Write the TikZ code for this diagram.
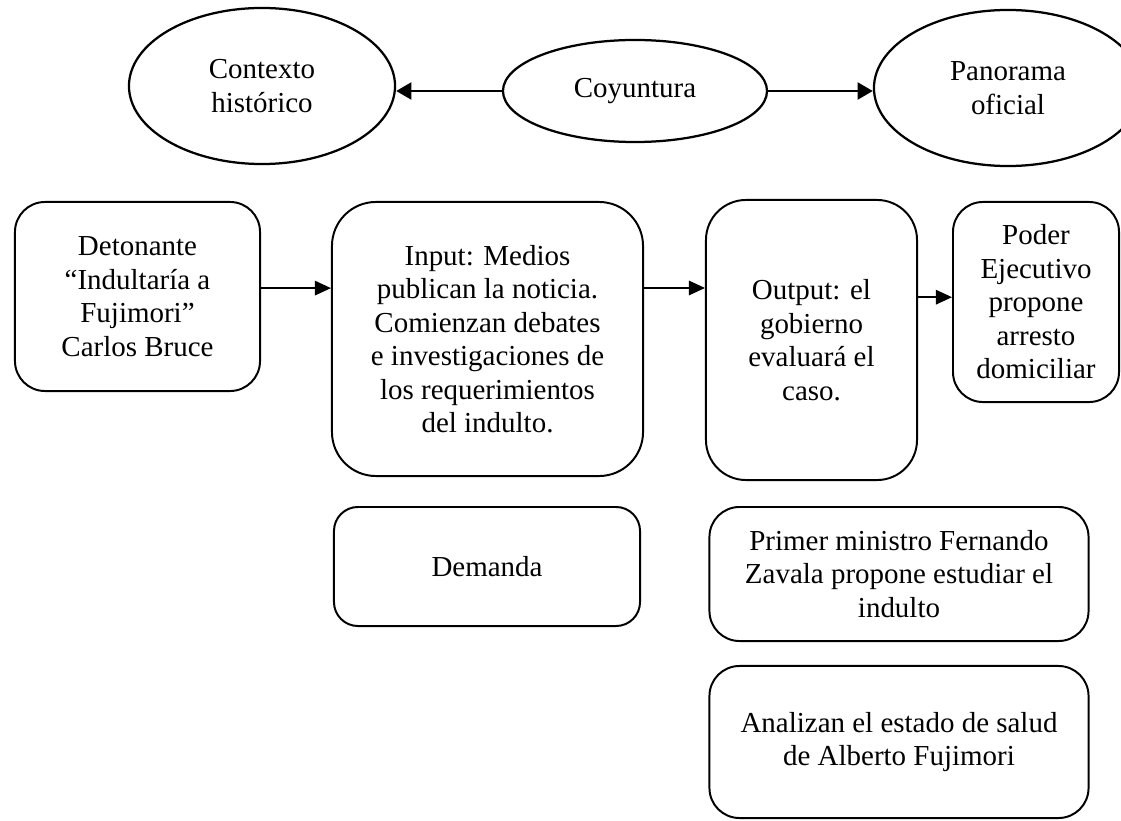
\documentclass[tikz,border=0pt]{standalone}
\usepackage{fontspec}
\setmainfont{Liberation Serif}
\usetikzlibrary{shapes.geometric, arrows.meta}

\begin{document}
\begin{tikzpicture}[x=0.025cm,y=-0.025cm,
    >={Triangle[length=0.4cm,width=0.36cm]},
    every node/.style={font=\fontsize{20.6}{23.8}\selectfont, align=center},
    caja/.style={draw, line width=1.4pt, rounded corners=#1, inner sep=0pt},
    elipse/.style={draw, ellipse, line width=1.6pt, inner sep=0pt},
    flecha/.style={->, line width=1.1pt},
    flechagruesa/.style={->, line width=2pt, >={Triangle[length=0.38cm,width=0.42cm]}}]
\useasboundingbox (0,0) rectangle (1121,821);

% entorno
\node[elipse, minimum width=6.65cm, minimum height=3.9cm] (ctx) at (262,86) {Contexto\\histórico};
\node[elipse, minimum width=6.6cm, minimum height=2.55cm] (coy) at (635,91) {Coyuntura};
\node[elipse, minimum width=6.7cm, minimum height=3.9cm] (pan) at (1008,88) {Panorama\\oficial};

% sistema
\node[caja=0.75cm, minimum width=6.125cm, minimum height=4.725cm] (det) at (137.5,296.5)
    {Detonante\\“Indultaría a\\Fujimori”\\Carlos Bruce};
\node[caja=1.1cm, minimum width=7.775cm, minimum height=6.85cm] (inp) at (487.5,339)
    {Input: Medios\\publican la noticia.\\Comienzan debates\\e investigaciones de\\los requerimientos\\del indulto.};
\node[caja=1cm, minimum width=5.275cm, minimum height=7cm] (out) at (811.5,340)
    {Output: el\\gobierno\\evaluará el\\caso.};
\node[caja=0.75cm, minimum width=4.15cm, minimum height=5cm] (pod) at (1036,302)
    {Poder\\Ejecutivo\\propone\\arresto\\domiciliar};
\node[caja=0.6cm, minimum width=7.65cm, minimum height=2.975cm] (dem) at (487,566.5) {Demanda};
\node[caja=0.75cm, minimum width=9.475cm, minimum height=3.35cm] (pri) at (899,574)
    {Primer ministro Fernando\\Zavala propone estudiar el\\indulto};
\node[caja=0.75cm, minimum width=9.475cm, minimum height=3.8cm] (ana) at (899,742)
    {Analizan el estado de salud\\de Alberto Fujimori};

\draw[flechagruesa] (coy.west) -- (coy.west -| ctx.east);
\draw[flechagruesa] (coy.east) -- (coy.east -| pan.west);
\draw[flecha] ([yshift=0.21cm]det.east) -- ([yshift=0.21cm]det.east -| inp.west);
\draw[flecha] ([yshift=1.275cm]inp.east) -- ([yshift=1.275cm]inp.east -| out.west);
\draw[flecha] ([yshift=0.12cm]pod.west -| out.east) -- ([yshift=0.12cm]pod.west);
\end{tikzpicture}
\end{document}
